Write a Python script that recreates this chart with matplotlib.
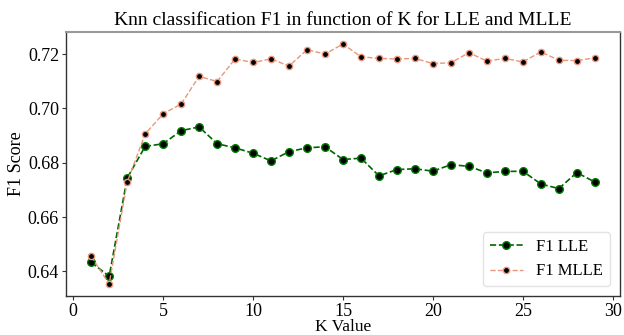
import matplotlib
matplotlib.use("Agg")
import matplotlib.pyplot as plt

k_values = list(range(1, 30))
f1_lle = [0.6434, 0.6382, 0.6744, 0.6860, 0.6870, 0.6918, 0.6932, 0.6870, 0.6855,
          0.6835, 0.6807, 0.6841, 0.6855, 0.6859, 0.6812, 0.6817, 0.6752, 0.6775,
          0.6778, 0.6769, 0.6793, 0.6787, 0.6763, 0.6768, 0.6769, 0.6722, 0.6705,
          0.6764, 0.6729]
f1_mlle = [0.6456, 0.6354, 0.6728, 0.6906, 0.6980, 0.7016, 0.7118, 0.7099, 0.7182,
           0.7169, 0.7182, 0.7156, 0.7216, 0.7200, 0.7237, 0.7190, 0.7184, 0.7182,
           0.7184, 0.7165, 0.7168, 0.7205, 0.7174, 0.7184, 0.7171, 0.7208, 0.7177,
           0.7176, 0.7186]
x_ticks = [0, 5, 10, 15, 20, 25, 30]
y_ticks = [0.64, 0.66, 0.68, 0.70, 0.72]

plt.rcParams['font.family'] = ['Liberation Serif', 'DejaVu Serif']

fig = plt.figure(figsize=(6.24, 3.35), dpi=100)
ax = fig.add_axes([66/624, 1-296/335, (620-66)/624, (296-32)/335])

ax.plot(k_values, f1_lle, linestyle='--', color='darkgreen', marker='o',
        markerfacecolor='black', markeredgecolor='green', markersize=5.5,
        linewidth=1.2, label='F1 LLE')
ax.plot(k_values, f1_mlle, linestyle='--', color='darksalmon', marker='o',
        markerfacecolor='black', markeredgecolor='darksalmon', markersize=4.5,
        linewidth=1.0, label='F1 MLLE')

ax.set_xticks(x_ticks)
ax.set_yticks(y_ticks)
ax.set_yticklabels([f"{v:.2f}" for v in y_ticks])
ax.tick_params(labelsize=13, length=3, width=0.8, color='#333333', pad=2)

ax.set_title('Knn classification F1 in function of K for LLE and MLLE', fontsize=14, pad=5)
ax.set_xlabel('K Value', fontsize=12.5, labelpad=-1)
ax.set_ylabel('F1 Score', fontsize=13, labelpad=2)

for side in ['left', 'bottom', 'right']:
    ax.spines[side].set_color('#333333')
    ax.spines[side].set_linewidth(1.0)
ax.spines['top'].set_color('#999999')
ax.spines['top'].set_linewidth(1.5)

ax.legend(loc='lower right', fontsize=12, frameon=True, edgecolor='#dddddd',
          handlelength=2.0, borderaxespad=0.6)

fig.savefig('out.png', dpi=100)
